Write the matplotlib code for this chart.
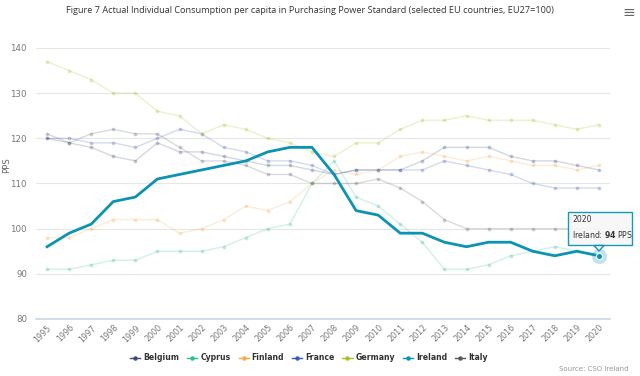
import matplotlib.pyplot as plt
from matplotlib.lines import Line2D
from matplotlib.patches import Rectangle, Polygon

anos = list(range(1995, 2021))

belgium = [120, 119, 118, 116, 115, 119, 117, 117, 116, 115, 114, 114, 113, 112, 113, 113, 113,
           115, 118, 118, 118, 116, 115, 115, 114, 113]
cyprus = [91, 91, 92, 93, 93, 95, 95, 95, 96, 98, 100, 101, 110, 115, 107, 105, 101,
          97, 91, 91, 92, 94, 95, 96, 95, 94]
finland = [98, 98, 100, 102, 102, 102, 99, 100, 102, 105, 104, 106, 110, 113, 112, 113, 116,
           117, 116, 115, 116, 115, 114, 114, 113, 114]
france = [120, 120, 119, 119, 118, 120, 122, 121, 118, 117, 115, 115, 114, 112, 113, 113, 113,
          113, 115, 114, 113, 112, 110, 109, 109, 109]
germany = [137, 135, 133, 130, 130, 126, 125, 121, 123, 122, 120, 119, 117, 116, 119, 119, 122,
           124, 124, 125, 124, 124, 124, 123, 122, 123]
ireland = [96, 99, 101, 106, 107, 111, 112, 113, 114, 115, 117, 118, 118, 112, 104, 103, 99,
           99, 97, 96, 97, 97, 95, 94, 95, 94]
italy = [121, 119, 121, 122, 121, 121, 118, 115, 115, 114, 112, 112, 110, 110, 110, 111, 109,
         106, 102, 100, 100, 100, 100, 100, 100, 100]

paises = ['Belgium', 'Cyprus', 'Finland', 'France', 'Germany', 'Ireland', 'Italy']
series = [belgium, cyprus, finland, france, germany, ireland, italy]
cores = ['#3d4a7a', '#2ebd98', '#f8a94a', '#3c5bb8', '#b0bd1f', '#0c93b2', '#555a60']

W, H = 640, 376
fig = plt.figure(figsize=(6.4, 3.76), dpi=100)
ax = fig.add_axes([36 / W, 1 - 319 / H, 574 / W, 271 / H])

x = list(range(len(anos)))
for nome, vals, cor in zip(paises, series, cores):
    if nome == 'Ireland':
        continue
    ax.plot(x, vals, color=cor, alpha=0.22, lw=1, marker='o', ms=1.8, zorder=2)

ax.plot(x, ireland, color=cores[5], lw=2, zorder=4)
# ponto destacado e halo
ax.plot(x[-1], ireland[-1], 'o', ms=11, color=cores[5], alpha=0.25, mec='none', zorder=5)
ax.plot(x[-1], ireland[-1], 'o', ms=4.5, color=cores[5], mec='white', mew=0.8, zorder=6)

ax.set_xlim(-0.5, len(anos) - 0.5)
ax.set_ylim(80, 140)
ax.set_yticks(range(80, 141, 10))
ax.set_xticks(x)
ax.set_xticklabels([str(a) for a in anos], rotation=45, ha='right', rotation_mode='anchor',
                   fontsize=5.8, color='#777777')
ax.tick_params(axis='y', labelsize=6.2, colors='#777777', length=0, pad=6.5)
ax.tick_params(axis='x', length=0, pad=3)
ax.grid(axis='y', color='#e6e6e6', lw=0.8)
ax.set_axisbelow(True)
for s in ['top', 'right', 'left']:
    ax.spines[s].set_visible(False)
ax.spines['bottom'].set_color('#ccd6eb')
ax.spines['bottom'].set_linewidth(1.2)
fig.text(7 / W, 1 - 165 / H, 'PPS', rotation=90, ha='center', va='center', fontsize=6.2,
         color='#666666')

# tooltip
fig.patches.append(Rectangle((568 / W, 1 - 245 / H), 64 / W, 33 / H, transform=fig.transFigure,
                             fc='#f7f7f7', ec=cores[5], lw=1, alpha=0.95, zorder=7))
fig.patches.append(Polygon([(594 / W, 1 - 245.5 / H), (604 / W, 1 - 245.5 / H), (599 / W, 1 - 251 / H)],
                           closed=True, transform=fig.transFigure, fc='#f7f7f7', ec=cores[5],
                           lw=1, zorder=7))
fig.text(572 / W, 1 - 220 / H, '2020', fontsize=5.6, color='#333333', va='center', zorder=8)
fig.text(572 / W, 1 - 234 / H, 'Ireland: $\\bf{94}$ PPS', fontsize=5.6, color='#333333',
         va='center', zorder=8)

fig.text(0.485, 0.972, 'Figure 7 Actual Individual Consumption per capita in Purchasing Power Standard '
         '(selected EU countries, EU27=100)', ha='center', va='center', fontsize=6.6,
         color='#333333', family='Open Sans')
fig.text(0.982, 0.966, '\u2261', ha='center', va='center', fontsize=11, color='#666666')
fig.text(0.982, 0.018, 'Source: CSO Ireland', ha='right', va='center', fontsize=5, color='#999999')

handles = [Line2D([0], [0], color=c, lw=1, marker='o', ms=2.2) for c in cores]
fig.legend(handles, paises, loc='center', bbox_to_anchor=(309 / W, 0.048), ncol=7, frameon=False,
           prop={'size': 5.6, 'weight': 'bold'}, labelcolor='#333333', handlelength=1.3,
           handletextpad=0.4, columnspacing=1.0)

fig.savefig('out.png', dpi=100)
